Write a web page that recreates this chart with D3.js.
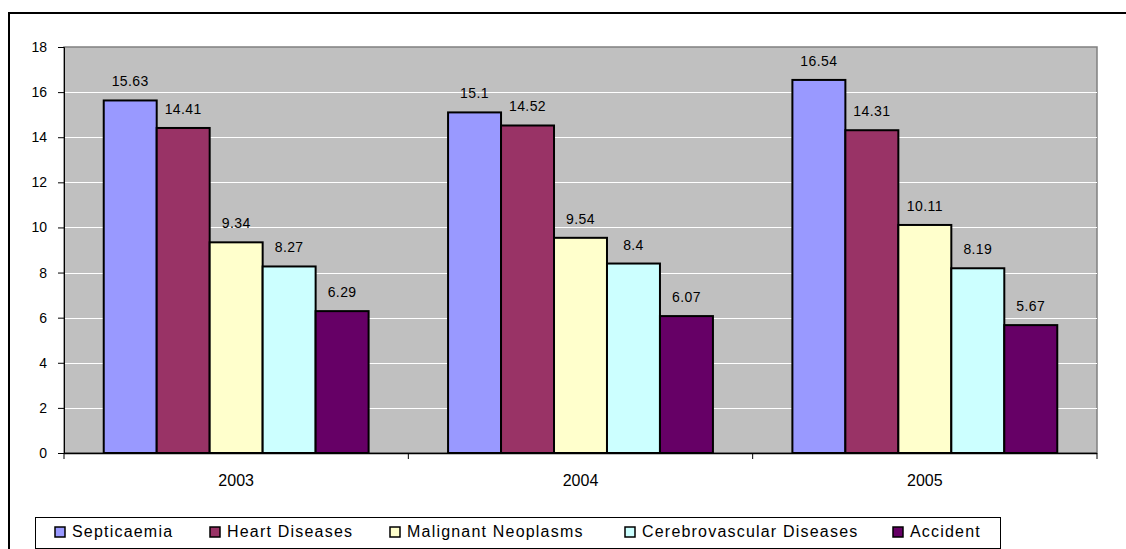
<!DOCTYPE html>
<html><head><meta charset="utf-8">
<script src="https://cdn.jsdelivr.net/npm/d3@7"></script>
<style>
html,body{margin:0;padding:0;background:#fff;overflow:hidden;}
svg{display:block;font-family:"Liberation Sans",Arial,sans-serif;}
</style></head>
<body>
<svg id="c" width="1126" height="549"></svg>
<script>
const years = ["2003","2004","2005"];
const seriesNames = ["Septicaemia","Heart Diseases","Malignant Neoplasms","Cerebrovascular Diseases","Accident"];
const septicaemia = [15.63,15.1,16.54];
const heart = [14.41,14.52,14.31];
const malignant = [9.34,9.54,10.11];
const cerebro = [8.27,8.4,8.19];
const accident = [6.29,6.07,5.67];
const colors = ["#9999FF","#993366","#FFFFCC","#CCFFFF","#660066"];
const yTicks = [0,2,4,6,8,10,12,14,16,18];
const labelText = [["15.63","15.1","16.54"],["14.41","14.52","14.31"],["9.34","9.54","10.11"],["8.27","8.4","8.19"],["6.29","6.07","5.67"]];

const series = [septicaemia,heart,malignant,cerebro,accident];
const svg = d3.select("#c");

// outer frame
svg.append("path").attr("d","M9,560 V13 H1140").attr("fill","none").attr("stroke","#000").attr("stroke-width",2);

const L=64,R=1097,T=47,B=453;
const x0 = d3.scaleBand().domain(years).range([L,R]).paddingInner(0).paddingOuter(0);
const x1 = d3.scaleBand().domain(seriesNames).range([0,x0.bandwidth()]).paddingInner(0).paddingOuter(0.75);
const y = d3.scaleLinear().domain([0,18]).range([B,T]);

svg.append("rect").attr("x",L).attr("y",T).attr("width",R-L).attr("height",B-T)
  .attr("fill","#C0C0C0").attr("stroke","#808080").attr("stroke-width",1.5);

svg.append("g").selectAll("line").data(yTicks.filter(d=>d>0&&d<18)).join("line")
  .attr("x1",L).attr("x2",R).attr("y1",d=>Math.round(y(d))+0.5).attr("y2",d=>Math.round(y(d))+0.5)
  .attr("stroke","#fff").attr("stroke-width",1);

const g = svg.append("g");
series.forEach((vals,si)=>{
  years.forEach((yr,i)=>{
    const bx = x0(yr)+x1(seriesNames[si]);
    g.append("rect").attr("x",bx).attr("y",y(vals[i])).attr("width",x1.bandwidth()).attr("height",B-y(vals[i]))
      .attr("fill",colors[si]).attr("stroke","#000").attr("stroke-width",2);
    g.append("text").attr("x",bx+x1.bandwidth()/2).attr("y",y(vals[i])-14)
      .attr("text-anchor","middle").attr("font-size",14).attr("letter-spacing","0.4px").attr("fill","#000")
      .text(labelText[si][i]);
  });
});

// y axis
const ya = d3.axisLeft(y).tickValues(yTicks).tickSize(6).tickPadding(11).tickFormat(d3.format("d"));
const yg = svg.append("g").attr("transform",`translate(${L},0)`).call(ya);
yg.select(".domain").attr("stroke","#000");
yg.selectAll("text").attr("font-size",14).attr("font-family","Liberation Sans, Arial, sans-serif").attr("fill","#000");

// x axis
const xg = svg.append("g").attr("transform",`translate(0,${B})`);
xg.append("line").attr("x1",L).attr("x2",R).attr("y1",0.5).attr("y2",0.5).attr("stroke","#000").attr("stroke-width",1.5);
const xt = [L, ...years.map(yr=>x0(yr)+x0.bandwidth())];
xg.selectAll("line.t").data(xt).join("line").attr("class","t")
  .attr("x1",d=>d).attr("x2",d=>d).attr("y1",0).attr("y2",6).attr("stroke","#000");
xg.selectAll("text").data(years).join("text")
  .attr("x",d=>x0(d)+x0.bandwidth()/2).attr("y",33).attr("text-anchor","middle")
  .attr("font-size",16).attr("fill","#000").text(d=>d);

// legend
const lg = svg.append("g");
lg.append("rect").attr("x",35.5).attr("y",517.5).attr("width",965).attr("height",31).attr("fill","#fff").attr("stroke","#000").attr("stroke-width",1);
const legX = [55,210,390,625,893];
seriesNames.forEach((n,i)=>{
  lg.append("rect").attr("x",legX[i]).attr("y",527).attr("width",10).attr("height",10).attr("fill",colors[i]).attr("stroke","#000").attr("stroke-width",1.5);
  lg.append("text").attr("x",legX[i]+17).attr("y",537).attr("font-size",16).attr("letter-spacing","1.2px").attr("fill","#000").text(n);
});
</script>
</body></html>
